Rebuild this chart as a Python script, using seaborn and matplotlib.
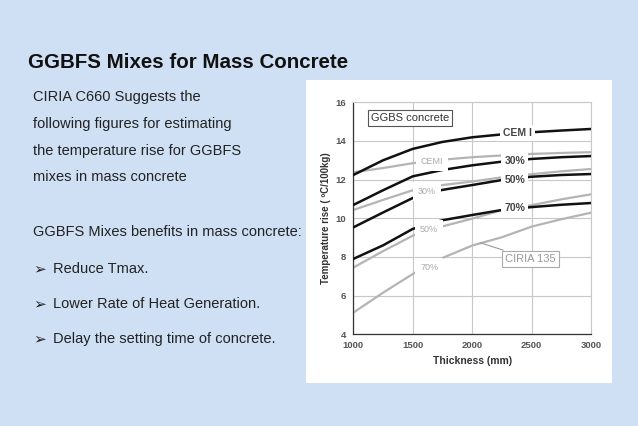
import numpy as np
import pandas as pd
import matplotlib
matplotlib.use("Agg")
import matplotlib.pyplot as plt
import seaborn as sns
from matplotlib.patches import Rectangle

# values
thickness = [1000, 1250, 1500, 1750, 2000, 2250, 2500, 2750, 3000]
c660_cem1 = [12.24, 13.0, 13.59, 13.95, 14.19, 14.34, 14.45, 14.54, 14.62]
c660_30 = [10.69, 11.45, 12.17, 12.5, 12.74, 12.93, 13.07, 13.16, 13.22]
c660_50 = [9.53, 10.3, 11.05, 11.47, 11.72, 11.98, 12.15, 12.24, 12.29]
c660_70 = [7.9, 8.6, 9.45, 9.9, 10.17, 10.43, 10.58, 10.7, 10.79]
c135_cem1 = [12.38, 12.6, 12.85, 13.03, 13.16, 13.25, 13.33, 13.38, 13.42]
c135_30 = [10.43, 10.95, 11.45, 11.72, 11.9, 12.12, 12.28, 12.43, 12.55]
c135_50 = [7.45, 8.3, 9.1, 9.58, 9.98, 10.42, 10.68, 10.98, 11.24]
c135_70 = [5.12, 6.15, 7.12, 7.95, 8.59, 9.02, 9.57, 9.95, 10.29]

black_names = ["CEM I", "30%", "50%", "70%"]
grey_names = ["CEMI", "30%", "50%", "70%"]

bullets = ["Reduce Tmax.", "Lower Rate of Heat Generation.", "Delay the setting time of concrete."]
intro = ["CIRIA C660 Suggests the", "following figures for estimating",
         "the temperature rise for GGBFS", "mixes in mass concrete"]

rows = []
for name, vals in zip(black_names, [c660_cem1, c660_30, c660_50, c660_70]):
    for t, v in zip(thickness, vals):
        rows.append(("C660", name, t, v))
for name, vals in zip(grey_names, [c135_cem1, c135_30, c135_50, c135_70]):
    for t, v in zip(thickness, vals):
        rows.append(("C135", name, t, v))
df = pd.DataFrame(rows, columns=["source", "mix", "thickness", "rise"])

sns.set_style("white")
plt.rcParams['font.family'] = ['Liberation Sans', 'DejaVu Sans']

W, H = 638, 426
fig = plt.figure(figsize=(W / 100, H / 100), dpi=100, facecolor="#cfe0f5")

# white panel behind the chart
fig.patches.append(Rectangle((306 / W, 1 - 383 / H), 306 / W, 303 / H,
                             transform=fig.transFigure, facecolor="white",
                             edgecolor="none", zorder=-5))

def fy(y):
    return 1 - y / H

fig.text(28 / W, fy(63), "GGBFS Mixes for Mass Concrete", fontsize=14.8,
         fontweight="bold", va="center", color="#111")
for txt, y in zip(intro, [97, 124, 151, 177]):
    fig.text(33 / W, fy(y), txt, fontsize=10.5, va="center", color="#222")
fig.text(33 / W, fy(232), "GGBFS Mixes benefits in mass concrete:", fontsize=10.5,
         va="center", color="#222")
for txt, y in zip(bullets, [269, 304, 339]):
    fig.text(33 / W, fy(y), "\u27a2", fontsize=11, va="center", color="#222",
             family=["DejaVu Sans"])
    fig.text(53 / W, fy(y), txt, fontsize=10.5, va="center", color="#222")

ax = fig.add_axes([353.3 / W, 1 - 334.3 / H, (591 - 353.3) / W, (334.3 - 102.3) / H])
ax.set_facecolor("white")

# CIRIA 135 curves in grey, C660 in black
for name in grey_names:
    d = df[(df.source == "C135") & (df.mix == name)]
    sns.lineplot(data=d, x="thickness", y="rise", ax=ax, color="#b4b4b4", lw=1.6, zorder=2)
for name in black_names:
    d = df[(df.source == "C660") & (df.mix == name)]
    sns.lineplot(data=d, x="thickness", y="rise", ax=ax, color="#111111", lw=1.8, zorder=3)

ax.set_xlim(1000, 3000)
ax.set_ylim(4, 16)
ax.set_xticks([1000, 1500, 2000, 2500, 3000])
ax.set_yticks(range(4, 17, 2))
ax.grid(True, color="#c8c8c8", lw=0.8, zorder=0)
ax.set_axisbelow(True)
for s in ["top", "right"]:
    ax.spines[s].set_color("#c8c8c8")
    ax.spines[s].set_linewidth(0.8)
for s in ["left", "bottom"]:
    ax.spines[s].set_color("#333333")
    ax.spines[s].set_linewidth(0.9)
ax.tick_params(axis="both", direction="out", length=3, width=0.8, color="#333",
               labelsize=6.8, labelcolor="#555", pad=2)
for lab in ax.get_xticklabels() + ax.get_yticklabels():
    lab.set_fontweight("bold")
ax.set_xlabel("Thickness (mm)", fontsize=7.5, fontweight="bold", color="#333", labelpad=4)
ax.set_ylabel("Temperature rise ( \u00baC/100kg)", fontsize=7, fontweight="bold",
              color="#333", labelpad=3)

# grey labels on CIRIA 135 curves
for name, (x, y) in zip(grey_names, [(1660, 12.93), (1620, 11.41), (1635, 9.43), (1640, 7.45)]):
    ax.text(x, y, name, fontsize=6.5, color="#aaaaaa", ha="center", va="center", zorder=4,
            bbox=dict(boxstyle="square,pad=0.55", fc="white", ec="none"))
# black labels on C660 curves
for name, (x, y) in zip(black_names, [(2380, 14.4), (2360, 12.97), (2360, 11.98), (2360, 10.52)]):
    ax.text(x, y, name, fontsize=7.5, color="#444444", fontweight="bold", ha="center",
            va="center", zorder=5, bbox=dict(boxstyle="square,pad=0.3", fc="white", ec="none"))

ax.text(1477, 15.19, "GGBS concrete", fontsize=8, color="#333", ha="center", va="center",
        zorder=5, bbox=dict(boxstyle="square,pad=0.3", fc="white", ec="#555", lw=0.8))
ax.annotate("CIRIA 135", xy=(2066, 8.74), xytext=(2490, 7.9), fontsize=8, color="#999",
            ha="center", va="center", zorder=5,
            bbox=dict(boxstyle="square,pad=0.3", fc="white", ec="#aaa", lw=0.8),
            arrowprops=dict(arrowstyle="-", color="#999", lw=0.8, shrinkA=0, shrinkB=0))

fig.savefig("out.png", dpi=100, facecolor=fig.get_facecolor())
